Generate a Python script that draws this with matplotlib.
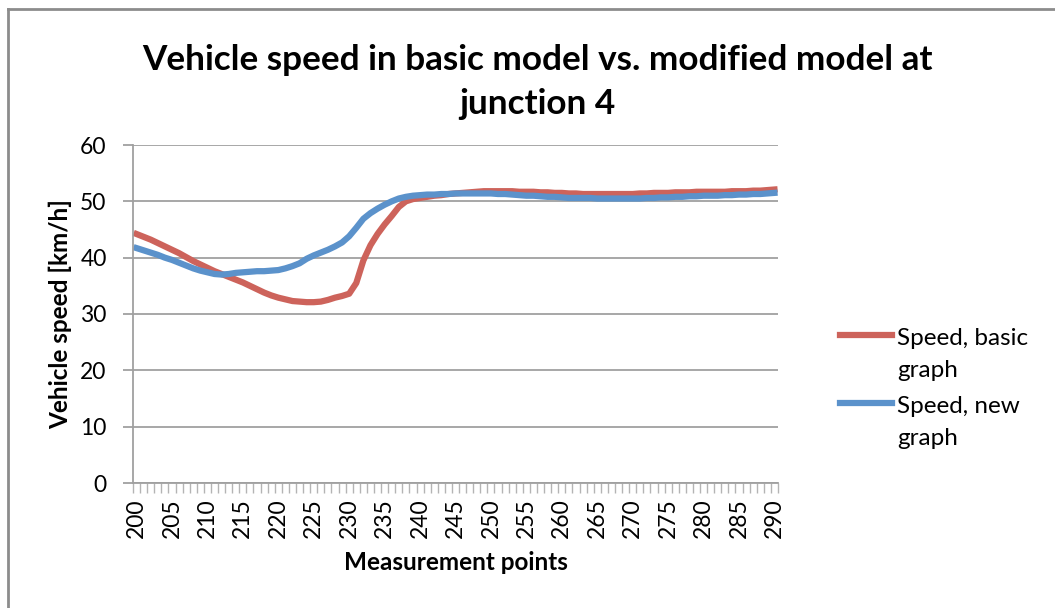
import numpy as np
import matplotlib.pyplot as plt
from matplotlib.lines import Line2D

points = list(range(200, 291))

speed_basic = [
    44.2, 43.7, 43.2, 42.6, 42.0, 41.4, 40.8, 40.1, 39.4, 38.8,
    38.2, 37.6, 37.1, 36.6, 36.1, 35.6, 35.0, 34.4, 33.8, 33.3,
    32.9, 32.6, 32.3, 32.2, 32.1, 32.1, 32.2, 32.5, 32.9, 33.2,
    33.6, 35.5, 39.5, 42.2, 44.2, 45.9, 47.4, 49.0, 50.0, 50.4,
    50.6, 50.8, 51.0, 51.1, 51.3, 51.4, 51.5, 51.6, 51.7, 51.8,
    51.8, 51.8, 51.8, 51.8, 51.7, 51.7, 51.7, 51.6, 51.6, 51.5,
    51.5, 51.4, 51.4, 51.3, 51.3, 51.3, 51.3, 51.3, 51.3, 51.3,
    51.3, 51.4, 51.4, 51.5, 51.5, 51.5, 51.6, 51.6, 51.6, 51.7,
    51.7, 51.7, 51.7, 51.7, 51.8, 51.8, 51.8, 51.9, 51.9, 52.0,
    52.1,
]

speed_new = [
    41.7, 41.3, 40.9, 40.5, 40.0, 39.6, 39.1, 38.6, 38.1, 37.7,
    37.4, 37.1, 37.0, 37.1, 37.3, 37.4, 37.5, 37.6, 37.6, 37.7,
    37.8, 38.1, 38.5, 39.0, 39.8, 40.4, 40.9, 41.4, 42.0, 42.7,
    43.8, 45.3, 46.9, 47.9, 48.7, 49.4, 50.0, 50.5, 50.8, 51.0,
    51.1, 51.2, 51.2, 51.3, 51.3, 51.4, 51.4, 51.4, 51.4, 51.4,
    51.4, 51.3, 51.3, 51.2, 51.1, 51.0, 51.0, 50.9, 50.8, 50.8,
    50.7, 50.6, 50.6, 50.6, 50.6, 50.5, 50.5, 50.5, 50.5, 50.5,
    50.5, 50.5, 50.6, 50.6, 50.7, 50.7, 50.8, 50.8, 50.9, 50.9,
    51.0, 51.0, 51.0, 51.1, 51.1, 51.2, 51.2, 51.3, 51.3, 51.4,
    51.5,
]

series_labels = ['Speed, basic\ngraph', 'Speed, new\ngraph']

plt.rcParams['font.family'] = ['Lato', 'DejaVu Sans']

RED = '#CD635B'
BLUE = '#5B92CB'
GRID = '#A0A0A0'
W, H = 1055, 608

fig = plt.figure(figsize=(W / 100, H / 100), dpi=100)

# chart frame (left and top edges only)
fig.add_artist(Line2D([8 / W, 8 / W], [0, 1 - 9 / H], color='#8C8C8C', lw=2))
fig.add_artist(Line2D([8 / W, 1], [1 - 9 / H, 1 - 9 / H], color='#8C8C8C', lw=2))

ax = fig.add_axes([133 / W, 1 - 483 / H, (778 - 133) / W, (483 - 145) / H])

lines = []
for vals, col in [(speed_basic, RED), (speed_new, BLUE)]:
    ln, = ax.plot(points, vals, color=col, lw=4.5, solid_joinstyle='round')
    lines.append(ln)

ax.set_xlim(points[0] - 0.5, points[-1] + 0.5)
ax.set_ylim(0, 60)
ax.set_yticks(np.arange(0, 61, 10))
ax.yaxis.grid(True, color=GRID, lw=1.3)
ax.set_axisbelow(True)

ax.set_xticks(points[::5])
ax.set_xticklabels([str(p) for p in points[::5]], rotation=90)
ax.set_xticks(np.arange(points[0] - 0.5, points[-1] + 1, 1), minor=True)
ax.tick_params(axis='x', which='major', length=0, pad=11, labelsize=16.5)
ax.tick_params(axis='x', which='minor', length=7, color='#B4B4B4', width=1)
ax.tick_params(axis='y', length=7, color=GRID, width=1.3, labelsize=16.5, pad=12)

for side in ['top', 'right']:
    ax.spines[side].set_visible(False)
for side in ['left', 'bottom']:
    ax.spines[side].set_color(GRID)
    ax.spines[side].set_linewidth(1.3)

ax.set_xlabel('Measurement points', fontsize=17.5, fontweight='bold', labelpad=9)
ax.set_ylabel('Vehicle speed [km/h]', fontsize=17.5, fontweight='bold')
ax.yaxis.set_label_coords(-0.095, 0.5)

fig.suptitle('Vehicle speed in basic model vs. modified model at\njunction 4',
             x=537 / W, y=1 - 44 / H, fontsize=25.3, fontweight='bold',
             va='top', linespacing=1.45)

# legend: handle sits level with the first text line
for ln, label, y_line in zip(lines, series_labels, [335, 403]):
    fig.add_artist(Line2D([840 / W, 892 / W], [1 - y_line / H] * 2,
                          color=ln.get_color(), lw=ln.get_linewidth()))
    fig.text(897 / W, 1 - (y_line - 7) / H, label, fontsize=17.5,
             va='top', ha='left', linespacing=1.65)

fig.savefig('out.png', dpi=100)
